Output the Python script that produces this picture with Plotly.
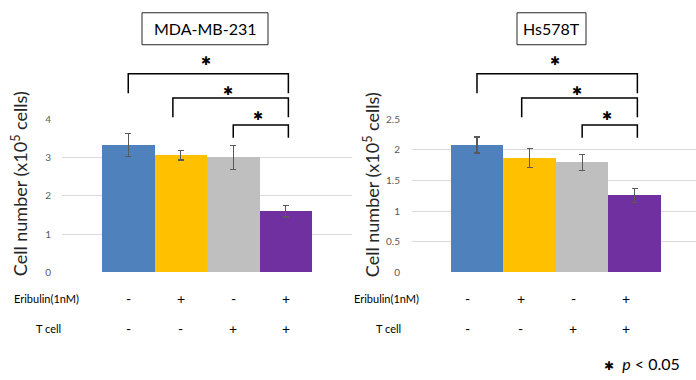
import plotly.graph_objects as go

# ---- data ----
groups = ["Control", "Eribulin", "T cell", "Eribulin + T cell"]
eribulin_row = ["-", "+", "-", "+"]
tcell_row = ["-", "-", "+", "+"]
colors = ["#4F81BD", "#FFC000", "#BFBFBF", "#7030A0"]

mda_values = [3.32, 3.06, 3.00, 1.60]
mda_errors = [0.30, 0.12, 0.31, 0.15]
mda_ticks = [0, 1, 2, 3, 4]

hs_values = [2.08, 1.87, 1.79, 1.26]
hs_errors = [0.13, 0.155, 0.13, 0.115]
hs_ticks = [0, 0.5, 1, 1.5, 2, 2.5]
hs_ticktext = ["0", "0.5", "1", "1.5", "2", "2.5"]

# significance brackets: (left group index, right group index)
brackets = [(0, 3), (1, 3), (2, 3)]

W, H = 696, 380
FONT = "Lato, 'Open Sans', Arial, sans-serif"
STAR_FONT = "'DejaVu Sans', sans-serif"


def px_x(p):
    return p / W


def px_y(p):
    return 1 - p / H


xpos = list(range(len(groups)))

fig = go.Figure()
fig.add_trace(go.Bar(
    x=xpos, y=mda_values, width=1.0, marker=dict(color=colors, line=dict(width=0)),
    error_y=dict(type="data", array=mda_errors, color="#595959", thickness=1.3, width=3),
    xaxis="x", yaxis="y", showlegend=False, hovertext=groups))
fig.add_trace(go.Bar(
    x=xpos, y=hs_values, width=1.0, marker=dict(color=colors, line=dict(width=0)),
    error_y=dict(type="data", array=hs_errors, color="#595959", thickness=1.3, width=3),
    xaxis="x2", yaxis="y2", showlegend=False, hovertext=groups))

ydom = [px_y(275), px_y(117)]
common_x = dict(showticklabels=False, showgrid=False, zeroline=False, showline=False, fixedrange=True)
common_y = dict(showgrid=True, gridcolor="#D9D9D9", gridwidth=1, zeroline=False, showline=False,
                tickfont=dict(family=FONT, size=10, color="#595959"), ticks="", domain=ydom)

fig.update_layout(
    width=W, height=H, margin=dict(l=0, r=0, t=0, b=0),
    paper_bgcolor="white", plot_bgcolor="white", bargap=0, showlegend=False,
    xaxis=dict(domain=[px_x(62), px_x(352)], range=[-1.262, 4.262], anchor="y", **common_x),
    yaxis=dict(range=[0, 4.0001], tickvals=mda_ticks, ticklabelstandoff=10, anchor="x", **common_y),
    xaxis2=dict(domain=[px_x(412), 1.0], range=[-1.236, 4.165], anchor="y2", **common_x),
    yaxis2=dict(range=[0, 2.5001], tickvals=hs_ticks, ticktext=hs_ticktext, ticklabelstandoff=11,
                anchor="x2", **common_y),
    font=dict(family=FONT),
)

shapes = []
annotations = []

# titles in boxes
for (x0, x1, label) in [(142, 268, "MDA-MB-231"), (517, 586, "Hs578T")]:
    shapes.append(dict(type="rect", xref="paper", yref="paper", x0=px_x(x0), x1=px_x(x1),
                       y0=px_y(40), y1=px_y(7), line=dict(color="#262626", width=1)))
    annotations.append(dict(text=label, xref="paper", yref="paper", x=px_x((x0 + x1) / 2), y=px_y(23.5),
                            showarrow=False, font=dict(family=FONT, size=16, color="#000000"),
                            xanchor="center", yanchor="middle"))

# y-axis titles
for xc in [20, 372]:
    annotations.append(dict(text="Cell number (x10<sup>5</sup> cells)", xref="paper", yref="paper",
                            x=px_x(xc), y=px_y(184), textangle=-90, showarrow=False,
                            font=dict(family=FONT, size=18, color="#262626"),
                            xanchor="center", yanchor="middle"))

# significance brackets (x in data coords, y in page coords)
levels = [(70, 90, 57), (95, 115, 88), (123, 136, 114)]
for xa in ["x", "x2"]:
    for (gl, gr), (ytop, ybot, ystar) in zip(brackets, levels):
        xl = gl - 0.15 if gl == 1 else gl
        xr = gr + 0.05
        path = (f"M {xl},{px_y(ybot)} L {xl},{px_y(ytop)} L {xr},{px_y(ytop)} L {xr},{px_y(ybot)}")
        shapes.append(dict(type="path", xref=xa, yref="paper", path=path,
                           line=dict(color="#000000", width=1.5)))
        annotations.append(dict(text="✱", xref=xa, yref="paper", x=(xl + xr) / 2 - 0.05,
                                y=px_y(ystar), showarrow=False,
                                font=dict(family=STAR_FONT, size=12, color="#000000"),
                                xanchor="center", yanchor="middle"))

# treatment table
for xa, xc, shift in [("x", 46, 0), ("x2", 386, -9)]:
    annotations.append(dict(text="Eribulin(1nM)", xref="paper", yref="paper", x=px_x(xc), y=px_y(302),
                            showarrow=False, font=dict(family=FONT, size=11, color="#000000"),
                            xanchor="center", yanchor="middle"))
    annotations.append(dict(text="T cell", xref="paper", yref="paper", x=px_x(xc + 2), y=px_y(333),
                            showarrow=False, font=dict(family=FONT, size=11, color="#000000"),
                            xanchor="center", yanchor="middle"))
    for i in xpos:
        annotations.append(dict(text=eribulin_row[i], xref=xa, yref="paper", x=i, xshift=shift,
                                y=px_y(302), showarrow=False,
                                font=dict(family=FONT, size=14, color="#000000"),
                                xanchor="center", yanchor="middle"))
        annotations.append(dict(text=tcell_row[i], xref=xa, yref="paper", x=i, xshift=shift,
                                y=px_y(333), showarrow=False,
                                font=dict(family=FONT, size=14, color="#000000"),
                                xanchor="center", yanchor="middle"))

annotations.append(dict(text="<span style='font-family:DejaVu Sans;font-size:12px'>✱</span>  <i>p</i> < 0.05",
                        xref="paper", yref="paper", x=px_x(682),
                        y=px_y(369), showarrow=False, font=dict(family=FONT, size=16, color="#000000"),
                        xanchor="right", yanchor="middle"))

fig.update_layout(shapes=shapes, annotations=annotations)
fig.write_html("out.html", config={"displayModeBar": False},
               post_script="document.body.style.margin='0px';document.body.style.overflow='hidden';")
